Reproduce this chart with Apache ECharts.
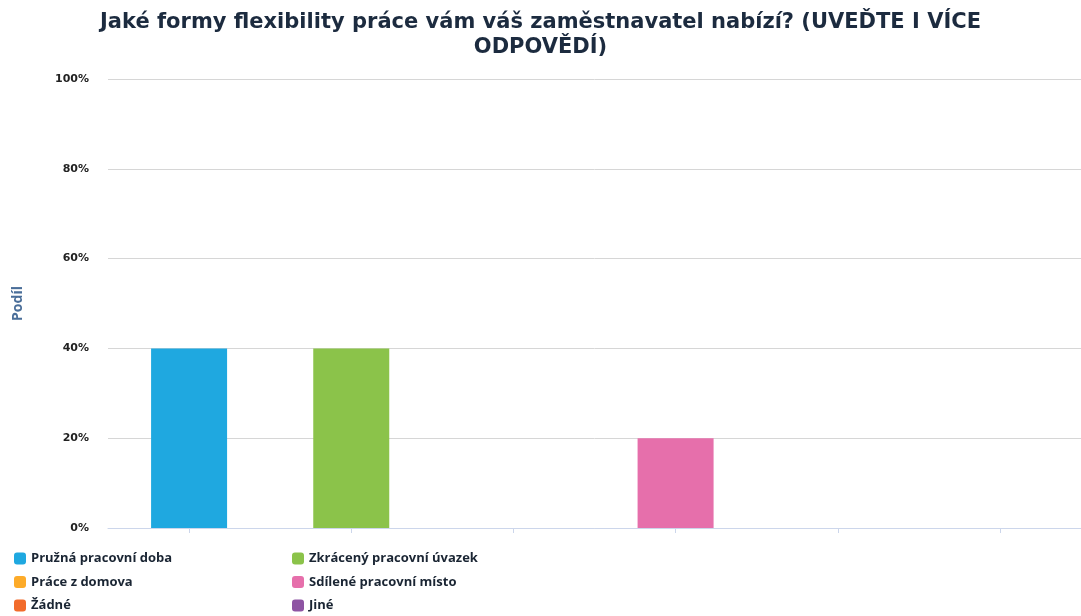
<!DOCTYPE html>
<html><head><meta charset="utf-8">
<script src="https://cdn.jsdelivr.net/npm/echarts@6/dist/echarts.min.js"></script>
<style>html,body{margin:0;padding:0;background:#fff}#c{width:1081px;height:616px}</style>
</head><body><div id="c"></div>
<script>
const categories = ['Pružná pracovní doba','Zkrácený pracovní úvazek','Práce z domova','Sdílené pracovní místo','Žádné','Jiné'];
const values = [40, 40, 0, 20, 0, 0];
const colors = ['#1fa8e0','#8bc34a','#fdab29','#e66fab','#f26b2b','#8e54a3'];
const yTicks = [0, 20, 40, 60, 80, 100];
const titleText = 'Jaké formy flexibility práce vám váš zaměstnavatel nabízí? (UVEĎTE I VÍCE\nODPOVĚDÍ)';

const series = categories.map((name, i) => ({
  name, type: 'bar', stack: 'all', barWidth: 76,
  itemStyle: { color: colors[i], borderWidth: 0 },
  data: categories.map((c, j) => j === i ? values[i] : null)
}));
const legendText = { color: '#1a2533', fontSize: 13, fontWeight: 'bold', fontFamily: 'Open Sans' };
const legends = categories.map((name, i) => ({
  orient: 'horizontal', padding: 0,
  left: (i % 2 === 0) ? 14 : 292,
  top: 552 + Math.floor(i / 2) * 23.5,
  itemWidth: 12, itemHeight: 12, itemGap: 5, icon: 'roundRect',
  data: [name], textStyle: legendText
}));
const chart = echarts.init(document.getElementById('c'));
chart.setOption({
  animation: false,
  title: { text: titleText, left: 'center', top: 5, itemGap: 0,
    textStyle: { color: '#1c2b3f', fontSize: 21, fontWeight: 'bold', fontFamily: 'DejaVu Sans', lineHeight: 25 } },
  grid: { left: 108, right: 0, top: 79, bottom: 88 },
  legend: legends,
  xAxis: { type: 'category', data: categories,
    axisLine: { lineStyle: { color: '#ccd6eb', width: 1 } },
    axisTick: { show: true, interval: 0, alignWithLabel: true, length: 5, lineStyle: { color: '#ccd6eb' } },
    axisLabel: { show: true, interval: 0, formatter: () => '' } },
  yAxis: { type: 'value', min: yTicks[0], max: yTicks[yTicks.length-1], interval: 20,
    name: 'Podíl', nameLocation: 'middle', nameGap: 83, nameRotate: 90,
    nameTextStyle: { color: '#4a6e99', fontWeight: 'bold', fontSize: 14, fontFamily: 'Open Sans' },
    axisLabel: { formatter: v => v + '%', color: '#222', fontWeight: 'bold', fontSize: 11, fontFamily: 'DejaVu Sans', margin: 19 },
    splitLine: { lineStyle: { color: '#d6d6d6' } } },
  series
});
</script></body></html>
